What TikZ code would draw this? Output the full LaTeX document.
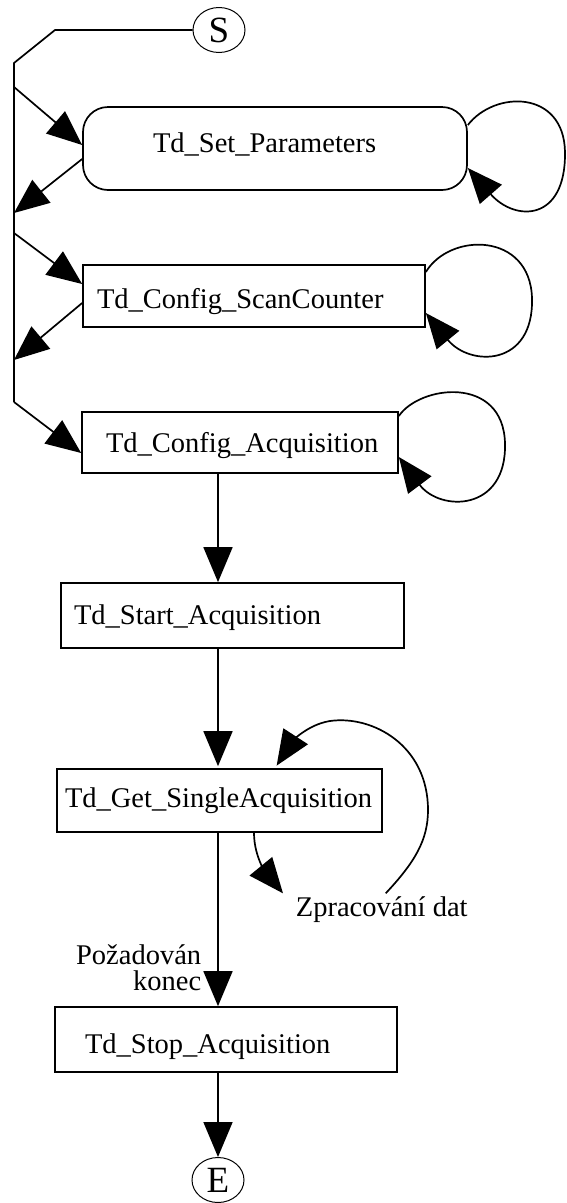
\documentclass[tikz,border=0pt]{standalone}
\usepackage{fontspec}
\setmainfont{Liberation Serif}
\usetikzlibrary{arrows.meta,shapes.geometric,calc}
% box content: fixed width, text starting after a left gap
\newcommand\padtext[3]{\makebox[#1][l]{\hspace*{#2}#3}}
\begin{document}
\begin{tikzpicture}[x=1pt,y=-1pt,line width=1.7pt,
  every node/.style={font=\fontsize{28.5pt}{26.5pt}\selectfont},
  stbox/.style={draw,inner sep=0pt,text depth=0pt},
  term/.style={draw,ellipse,line width=1pt,minimum width=52pt,minimum height=45pt,
    inner sep=0pt,font=\fontsize{37pt}{40pt}\selectfont},
  arr/.style={-{Triangle[length=35pt,width=29pt]}},
  lbl/.style={inner sep=0pt}]
\useasboundingbox (0,0) rectangle (566,1203);

% terminals
\node[term] (st) at (219,30) {S};
\node[term] (en) at (218,1180) {E};

% states
\node[stbox,rounded corners=25pt,minimum height=83pt,text height=7pt] (sp) at (275,148.5)
  {\padtext{384pt}{70pt}{Td\_Set\_Parameters}};
\node[stbox,minimum height=62pt,text height=24pt] (sc) at (254,296)
  {\padtext{342pt}{14pt}{Td\_Config\_ScanCounter}};
\node[stbox,minimum height=61pt,text height=19pt] (ca) at (240,442.5)
  {\padtext{316pt}{24pt}{Td\_Config\_Acquisition}};
\node[stbox,minimum height=65pt,text height=17pt] (sa) at (232.5,615.5)
  {\padtext{343pt}{13pt}{Td\_Start\_Acquisition}};
\node[stbox,minimum height=63pt,text height=13pt] (ga) at (219.5,800.5)
  {\padtext{325pt}{8pt}{Td\_Get\_SingleAcquisition}};
\node[stbox,minimum height=65pt,text height=27pt] (so) at (226,1039.5)
  {\padtext{342pt}{30pt}{Td\_Stop\_Acquisition}};

% labels
\node[inner sep=2pt,anchor=base west] (zd) at (293,916) {Zpracování dat};
\node[lbl,align=right,anchor=south east] (pk) at (202,992) {Požadován\\konec};

% bus on the left
\coordinate (k1) at (55,30);
\coordinate (k2) at (14,63);
\coordinate (b1) at (14,87);
\coordinate (b2) at (14,213);
\coordinate (b3) at (14,233);
\coordinate (b4) at (14,360);
\coordinate (b5) at (14,402);
\draw (st.west) -- (k1) -- (k2) -- (b5);

\draw[arr] (b1) -- ([yshift=3.5pt]sp.west);
\draw[arr] ([yshift=-10.5pt]sp.west) -- (b2);
\draw[arr] (b3) -- ([yshift=12pt]sc.west);
\draw[arr] ([yshift=-7pt]sc.west) -- (b4);
\draw[arr] (b5) -- ([yshift=-10.5pt]ca.west);

% self loops
\draw[arr] ([yshift=23.5pt]sp.east) .. controls (495,90) and (564,90) .. (565,152)
  .. controls (566,222) and (515,222) .. ([yshift=-19.5pt]sp.east);
\draw[arr] ([yshift=24pt]sc.east) .. controls (450,232) and (530,232) .. (532,298)
  .. controls (534,367) and (470,367) .. ([yshift=-17pt]sc.east);
\draw[arr] ([yshift=26.5pt]ca.east) .. controls (420,385) and (503,375) .. (505,443)
  .. controls (507,512) and (440,512) .. ([yshift=-14.5pt]ca.east);

% main flow
\draw[arr] (ca.south -| en) -- (sa.north -| en);
\draw[arr,shorten >=2pt] (sa.south -| en) -- (ga.north -| en);
\draw[arr] (ga.south -| en) -- (so.north -| en);
\draw[arr] (so.south -| en) -- (en.north);

% data processing loop
\draw[arr] ([xshift=34.5pt]ga.south) .. controls (254,858) and (268,875) .. ([xshift=-10pt]zd.north west);
\draw[arr,shorten >=3pt] ([xshift=4pt]zd.north) .. controls (415,862) and (428,840) .. (428,810)
  .. controls (428,745) and (372,715) .. (330,721)
  .. controls (305,725) and (290,745) .. ([xshift=55.5pt]ga.north);
\end{tikzpicture}
\end{document}
